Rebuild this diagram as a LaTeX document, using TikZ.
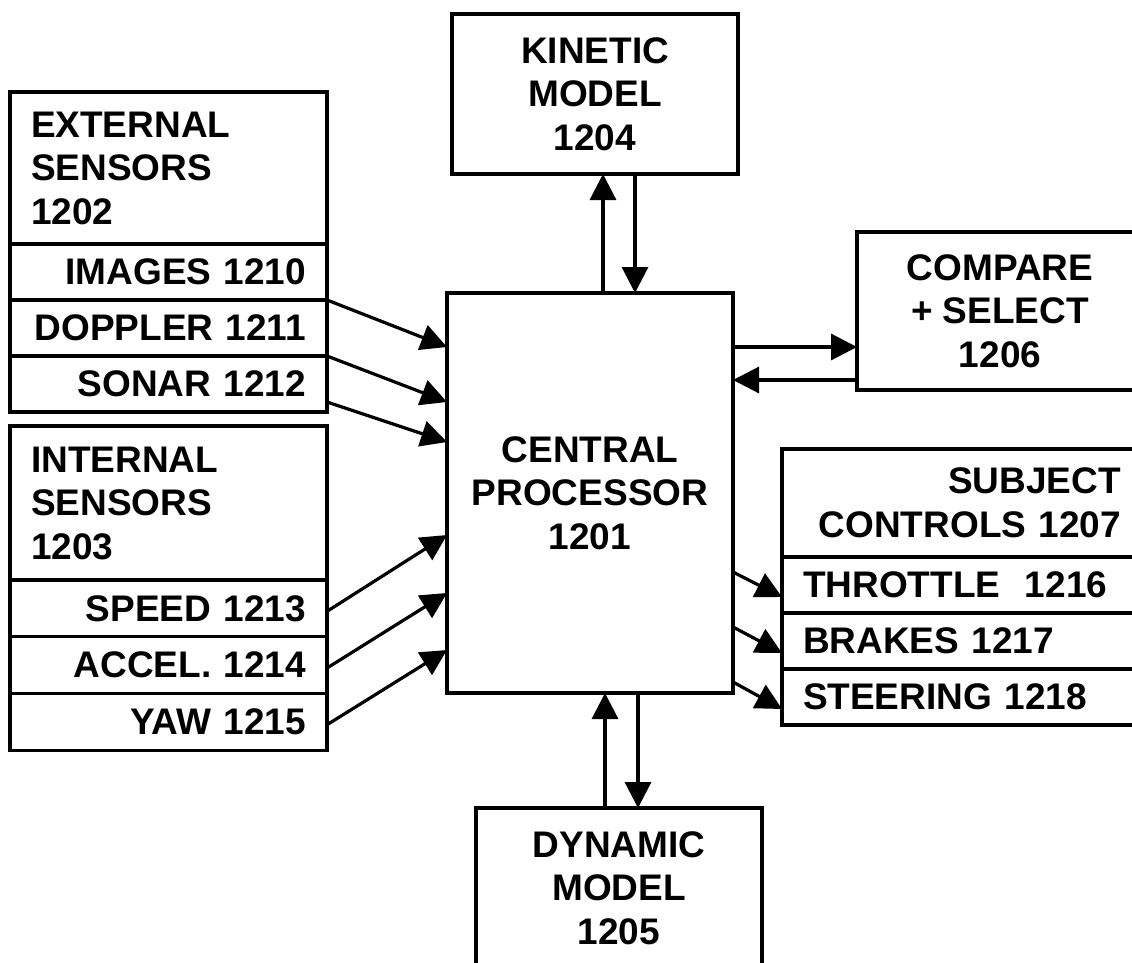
\documentclass[tikz,border=0pt]{standalone}
\usepackage{fontspec}
\setmainfont{Liberation Sans}
\usetikzlibrary{positioning,calc,arrows.meta}

\begin{document}
\begin{tikzpicture}[x=1pt,y=-1pt,->,>={Triangle[length=26pt,width=26pt]},line width=3.2pt,
    box/.style={draw, -, outer sep=0pt, inner sep=0pt, font=\bfseries\fontsize{37}{43.5}\selectfont},
    ctr/.style={box, minimum width=286pt, minimum height=160pt, align=center, anchor=north west},
    lhdr/.style={box, minimum width=317pt, text width=275pt, inner xsep=21pt, align=left, anchor=north west},
    lrow/.style={box, minimum width=317pt, text width=275pt, inner xsep=21pt, align=right, minimum height=56pt, below=0pt of #1},
    rhdr/.style={box, minimum width=360pt, text width=318pt, inner xsep=21pt, align=right, minimum height=108pt, anchor=north west},
    rrow/.style={box, minimum width=360pt, text width=318pt, inner xsep=21pt, align=left, minimum height=56pt, below=0pt of #1}]
    \useasboundingbox (0,0) rectangle (1132,962);
    \clip (0,0) rectangle (1132,962);

    \node (cpu) [ctr, minimum height=400pt] at (447,293) {CENTRAL\\PROCESSOR\\1201};
    \node (kin) [ctr] at (452,14) {KINETIC\\MODEL\\1204};
    \node (cmp) [ctr, minimum height=158pt] at (857,232) {COMPARE\\+ SELECT\\1206};
    \node (dyn) [ctr] at (476,808) {DYNAMIC\\MODEL\\1205};

    \node (ext) [lhdr, minimum height=152pt] at (10,92) {EXTERNAL\\SENSORS\\1202};
    \node (img) [lrow=ext] {IMAGES 1210};
    \node (dop) [lrow=img] {DOPPLER 1211};
    \node (son) [lrow=dop] {SONAR 1212};

    \node (int) [lhdr, minimum height=154pt] at (10,426) {INTERNAL\\SENSORS\\1203};
    \node (spd) [lrow=int, minimum height=56.7pt] {SPEED 1213};
    \node (acc) [lrow=spd, minimum height=56.7pt] {ACCEL. 1214};
    \node (yaw) [lrow=acc, minimum height=56.7pt] {YAW 1215};

    \node (sub) [rhdr] at (782,449) {SUBJECT\\CONTROLS 1207};
    \node (thr) [rrow=sub] {THROTTLE\ \ 1216};
    \node (brk) [rrow=thr] {BRAKES 1217};
    \node (str) [rrow=brk] {STEERING 1218};

    \draw ($(cpu.north west)+(156,0)$) -> ($(kin.south west)+(151,0)$);
    \draw ($(kin.south west)+(183,0)$) -> ($(cpu.north west)+(188,0)$);
    \draw ($(cpu.north east)+(0,54)$) -> ($(cmp.north west)+(0,115)$);
    \draw ($(cmp.north west)+(0,148)$) -> ($(cpu.north east)+(0,87)$);
    \draw ($(dyn.north west)+(129,0)$) -> ($(cpu.south west)+(158,0)$);
    \draw ($(cpu.south west)+(191,0)$) -> ($(dyn.north west)+(162,0)$);

    \draw (img.south east) -> ($(cpu.north west)+(0,54)$);
    \draw (dop.south east) -> ($(cpu.north west)+(0,109)$);
    \draw ($(son.east)+(0,18)$) -> ($(cpu.north west)+(0,149)$);
    \draw ($(spd.east)+(0,3)$) -> ($(cpu.north west)+(0,242)$);
    \draw ($(acc.east)+(0,3)$) -> ($(cpu.north west)+(0,300)$);
    \draw ($(yaw.east)+(0,3)$) -> ($(cpu.north west)+(0,357)$);

    \draw ($(cpu.north east)+(0,279)$) -> ($(thr.west)+(0,12)$);
    \draw ($(cpu.north east)+(0,334)$) -> ($(brk.west)+(0,12)$);
    \draw ($(cpu.north east)+(0,389)$) -> ($(str.west)+(0,12)$);
  \end{tikzpicture}
\end{document}
